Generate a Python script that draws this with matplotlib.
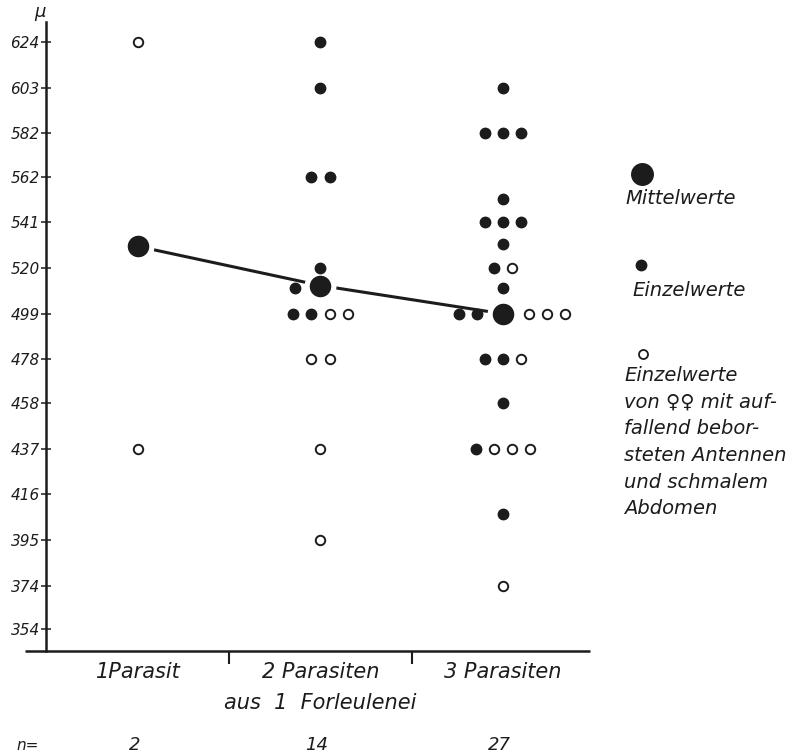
import matplotlib.pyplot as plt
import numpy as np
from matplotlib.lines import Line2D

# Werte (in mu)
tick_vals = [624, 603, 582, 562, 541, 520, 499, 478, 458, 437, 416, 395, 374, 354]
groups = ["1Parasit", "2 Parasiten", "3 Parasiten"]
n_counts = [2, 14, 27]
means = [530, 512, 499]

# Einzelwerte (gefuellt)
filled = [
    [],
    [624, 603, 562, 562, 520, 511, 499, 499],
    [603, 582, 582, 582, 552, 541, 541, 541, 531, 520, 511, 499, 499,
     478, 478, 458, 437, 407],
]
# Einzelwerte von Weibchen mit auffallend beborsteten Antennen (offen)
hollow = [
    [624, 437],
    [499, 499, 478, 478, 437, 395],
    [520, 499, 499, 499, 478, 437, 437, 437, 374],
]

W, H = 795, 754
ink = "#1c1c1c"


def row_layout(xc, mean, fvals, hvals, step=0.1, gap=0.14):
    # spread equal values side by side, filled first, then open
    fpts, hpts = [], []
    for v in sorted(set(fvals) | set(hvals)):
        nf, nh = fvals.count(v), hvals.count(v)
        if abs(v - mean) <= 3:
            fx = [xc - gap - step * i for i in range(nf)]
            hx = [xc + gap + step * i for i in range(nh)]
        else:
            k = nf + nh
            xs = xc + (np.arange(k) - (k - 1) / 2) * step
            fx, hx = list(xs[:nf]), list(xs[nf:])
        fpts += [(x, v) for x in fx]
        hpts += [(x, v) for x in hx]
    return fpts, hpts


fig = plt.figure(figsize=(W / 100, H / 100), dpi=100)
ax = fig.add_axes([46 / W, 103 / H, 544 / W, 629 / H])
ax.set_xlim(0.496, 3.477)
ax.set_ylim(343.9, 633.2)

xpos = np.arange(1, len(groups) + 1)

# Mittelwert-Linie mit weissem Rand um die grossen Punkte
ax.plot(xpos, means, color=ink, lw=2.2, zorder=1, solid_capstyle="butt")
ax.plot(xpos, means, "o", ms=22, color="white", zorder=2)
ax.plot(xpos, means, "o", ms=14.5, color=ink, zorder=4)

for xc, m, fv, hv in zip(xpos, means, filled, hollow):
    fpts, hpts = row_layout(xc, m, fv, hv)
    if fpts:
        fx, fy = zip(*fpts)
        ax.plot(fx, fy, "o", ms=7.5, color=ink, zorder=3, lw=0)
    if hpts:
        hx, hy = zip(*hpts)
        ax.plot(hx, hy, "o", ms=6.8, mfc="white", mec=ink, mew=1.4,
                zorder=3, lw=0)

# Achsen
for s in ["top", "right", "bottom"]:
    ax.spines[s].set_visible(False)
ax.spines["left"].set_linewidth(1.8)
ax.spines["left"].set_color(ink)
ax.plot([0.38, 3.477], [343.9, 343.9], color=ink, lw=1.8, clip_on=False,
        solid_capstyle="butt")

ax.set_yticks(tick_vals)
ax.set_yticklabels([str(v) for v in tick_vals], fontstyle="italic",
                   fontsize=11, color=ink)
ax.tick_params(axis="y", direction="inout", length=7, width=1.1, pad=1,
               color=ink)
ax.set_xticks([1.5, 2.5])
ax.set_xticklabels([])
ax.tick_params(axis="x", direction="out", length=9, width=1.5, color=ink)

tr = ax.get_xaxis_transform()
for x, g in zip(xpos, groups):
    ax.text(x, -0.034, g, transform=tr, ha="center", va="center",
            fontsize=15, fontstyle="italic", color=ink)
ax.text(2.0, -0.082, "aus  1  Forleulenei", transform=tr, ha="center",
        va="center", fontsize=15, fontstyle="italic", color=ink)
for x, n in zip(xpos, n_counts):
    ax.text(x - 0.02, -0.149, str(n), transform=tr, ha="center",
            va="center", fontsize=13, fontstyle="italic", color=ink)
fig.text(28 / W, 1 - 746 / H, "n=", ha="center", va="center",
         fontsize=11, fontstyle="italic", color=ink)
fig.text(40 / W, 1 - 12 / H, "μ", ha="center", va="center",
         fontsize=13, fontstyle="italic", color=ink)

# Legende rechts
def fig_marker(px, py, **kw):
    fig.add_artist(Line2D([px / W], [1 - py / H], transform=fig.transFigure,
                          marker="o", lw=0, **kw))


fig_marker(642, 174, ms=15.5, color=ink)
fig.text(625 / W, 1 - 198 / H, "Mittelwerte", ha="left", va="center",
         fontsize=14, fontstyle="italic", color=ink)
fig_marker(641, 265, ms=7.5, color=ink)
fig.text(632 / W, 1 - 290 / H, "Einzelwerte", ha="left", va="center",
         fontsize=14, fontstyle="italic", color=ink)
fig_marker(643, 354, ms=6.5, mfc="white", mec=ink, mew=1.3)
legend_lines = ["Einzelwerte", "von ♀♀ mit auf-", "fallend bebor-",
                "steten Antennen", "und schmalem", "Abdomen"]
for i, line in enumerate(legend_lines):
    fig.text(624 / W, 1 - (376 + 26.5 * i) / H, line, ha="left",
             va="center", fontsize=14, fontstyle="italic", color=ink)

fig.savefig("out.png", dpi=100, facecolor="white")
